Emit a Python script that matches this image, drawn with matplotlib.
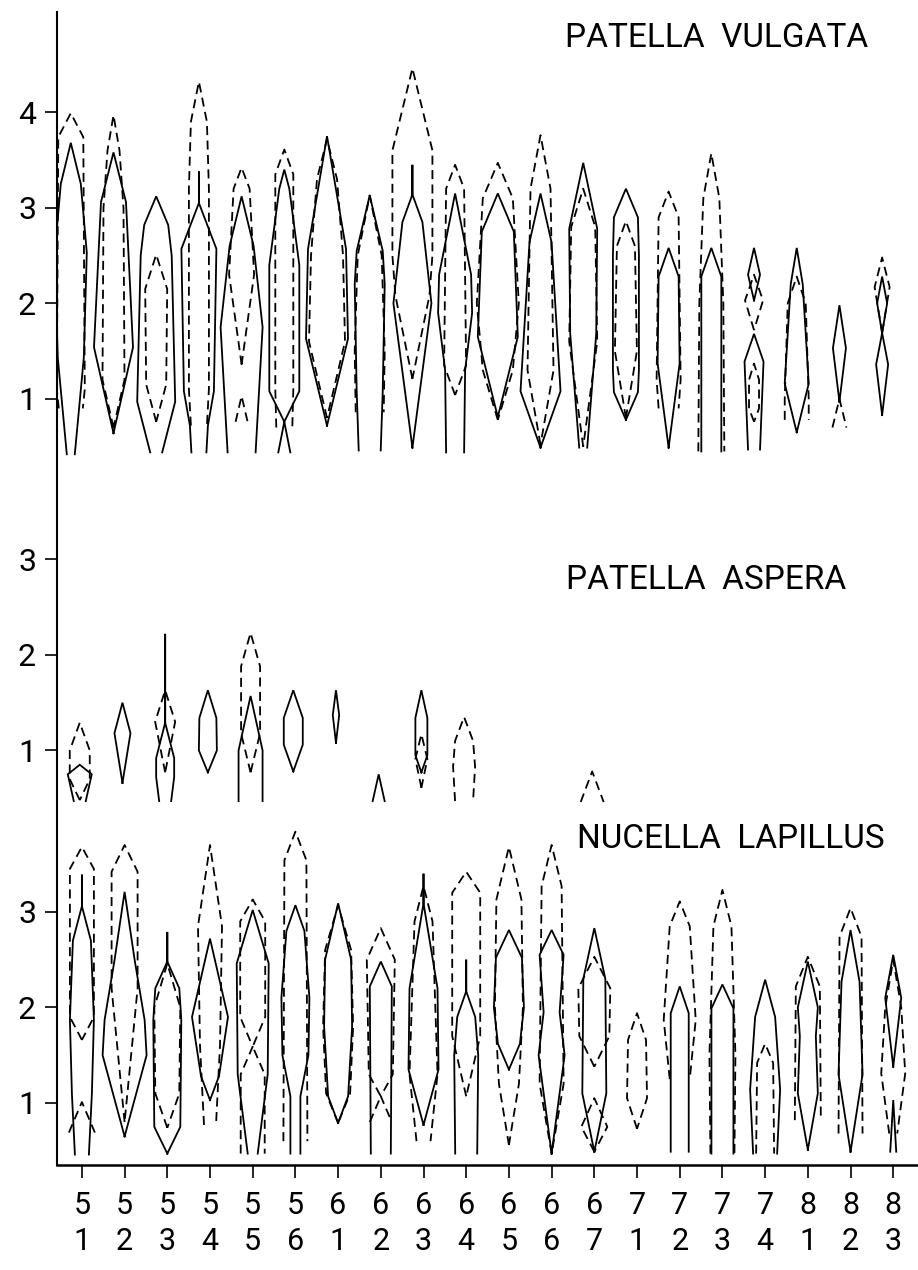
import matplotlib
matplotlib.use("Agg")
import matplotlib.pyplot as plt

plt.rcParams['font.family'] = ['Roboto', 'DejaVu Sans']

# station labels along the shore (tens digit over units digit)
stations = ['51', '52', '53', '54', '55', '56', '61', '62', '63', '64',
            '65', '66', '67', '71', '72', '73', '74', '81', '82', '83']

# kites: (station, [(level, half abundance), ...] from top to bottom)
vulgata_solid = [
    ('51', [(3.68, 0), (3.25, 10), (2.53, 16), (1.43, 13), (0.42, 4)]),
    ('52', [(3.58, 0), (3.06, 12.5), (1.54, 19.5), (0.64, 0)]),
    ('53', [(3.12, 0), (2.82, 12), (2.5, 15.5), (0.97, 19), (0.44, 6)]),
    ('54', [(3.38, 0), (3.05, 0), (2.57, 17.5), (1.08, 15), (0.72, 9), (0.44, 7.5)]),
    ('55', [(3.12, 0), (2.6, 12), (1.75, 21), (0.44, 14)]),
    ('56', [(3.40, 0), (3.2, 5), (2.4, 15), (1.08, 15), (0.76, 0), (0.44, 6)]),
    ('61', [(3.75, 0), (2.57, 19), (1.63, 21), (0.72, 0)]),
    ('62', [(3.13, 0), (2.55, 13), (2.2, 15), (1.07, 13), (0.46, 11)]),
    ('63', [(3.45, 0), (3.14, 0), (2.85, 10), (2.0, 19), (0.49, 0)]),
    ('64', [(3.15, 0), (2.3, 16), (1.9, 17), (1.3, 10), (0.44, 9)]),
    ('65', [(3.15, 0), (2.75, 16), (1.65, 20), (0.81, 0)]),
    ('66', [(3.15, 0), (2.64, 11), (1.08, 20), (0.49, 0)]),
    ('67', [(3.47, 0), (2.78, 14), (1.68, 13), (0.49, 4)]),
    ('71', [(3.2, 0), (2.9, 12), (2.5, 13), (1.3, 13), (1.07, 12), (0.78, 0)]),
    ('72', [(2.58, 0), (2.28, 10), (1.37, 11), (0.49, 0)]),
    ('73', [(2.58, 0), (2.28, 10), (0.45, 10)]),
    ('74', [(2.58, 0), (2.3, 6), (2.03, 0)]),
    ('74', [(1.68, 0), (1.39, 9.5), (0.47, 6)]),
    ('81', [(2.58, 0), (2.2, 6), (1.16, 12), (0.65, 0)]),
    ('82', [(1.98, 0), (1.53, 6.5), (0.97, 0)]),
    ('83', [(2.28, 0), (2.0, 5), (1.69, 0), (1.36, 6), (0.83, 0)]),
]
vulgata_dashed = [
    ('51', [(3.99, 0), (3.74, 12.5), (1.1, 14), (0.9, 12)]),
    ('52', [(3.97, 0), (3.6, 6), (3.0, 10), (1.2, 11), (0.7, 0)]),
    ('53', [(2.51, 0), (2.15, 11), (1.15, 10), (0.76, 0)]),
    ('54', [(4.32, 0), (3.9, 8), (3.2, 10), (1.1, 10), (0.72, 8)]),
    ('55', [(3.42, 0), (3.2, 8), (2.3, 12.5), (1.36, 0)]),
    ('55', [(1.03, 0), (0.76, 6)]),
    ('56', [(3.61, 0), (3.35, 9), (1.1, 9), (0.7, 8)]),
    ('61', [(3.72, 0), (3.3, 10), (2.5, 16), (1.6, 18), (0.8, 0)]),
    ('62', [(3.13, 0), (2.5, 12), (1.5, 15), (0.86, 14)]),
    ('63', [(4.46, 0), (3.6, 20), (2.5, 20), (2.08, 17), (1.21, 0)]),
    ('64', [(3.45, 0), (3.2, 9), (1.35, 11), (1.04, 0)]),
    ('65', [(3.47, 0), (3.1, 15), (2.0, 21), (1.3, 15), (0.78, 0)]),
    ('66', [(3.76, 0), (3.2, 10), (1.3, 13), (0.52, 0)]),
    ('67', [(3.2, 0), (2.8, 12), (1.6, 14), (0.5, 0)]),
    ('71', [(2.86, 0), (2.6, 9), (1.5, 11), (0.8, 0)]),
    ('72', [(3.17, 0), (2.9, 10), (1.2, 12), (0.9, 10)]),
    ('73', [(3.57, 0), (3.1, 8), (2.0, 12), (0.45, 13)]),
    ('74', [(2.3, 0), (2.03, 9), (1.72, 0)]),
    ('74', [(1.37, 0), (1.2, 5), (0.9, 5), (0.76, 0)]),
    ('81', [(2.28, 0), (2.0, 9), (1.0, 12), (0.78, 12)]),
    ('82', [(1.0, 0), (0.7, 7)]),
    ('83', [(2.48, 0), (2.17, 7.5), (1.69, 0)]),
]

aspera_solid = [
    ('51', [(0.85, 0), (0.75, 12), (0.47, 6)]),
    ('52', [(1.5, 0), (1.18, 8), (0.66, 0)]),
    ('53', [(2.22, 0), (1.29, 0), (0.92, 9), (0.72, 9), (0.47, 6)]),
    ('54', [(1.63, 0), (1.34, 8.5), (1.0, 9), (0.77, 0)]),
    ('55', [(1.57, 0), (1.0, 12), (0.47, 12)]),
    ('56', [(1.63, 0), (1.34, 9.5), (1.06, 9.5), (0.78, 0)]),
    ('61', [(1.63, 0), (1.37, 3.2), (1.08, 0)]),
    ('62', [(0.75, 0), (0.47, 6)]),
    ('63', [(1.63, 0), (1.34, 6), (0.95, 6), (0.77, 0)]),
]
aspera_dashed = [
    ('51', [(1.29, 0), (1.0, 10), (0.7, 10), (0.48, 0)]),
    ('53', [(1.63, 0), (1.3, 10), (0.77, 0)]),
    ('55', [(2.23, 0), (1.88, 9.5), (1.18, 9.5), (0.77, 0)]),
    ('63', [(1.17, 0), (0.91, 6), (0.61, 0)]),
    ('64', [(1.35, 0), (1.1, 9), (0.83, 11), (0.47, 9)]),
    ('67', [(0.78, 0), (0.46, 11.5)]),
]

lapillus_solid = [
    ('51', [(3.39, 0), (3.06, 0), (2.7, 9), (1.87, 12), (1.1, 10), (0.46, 7)]),
    ('52', [(3.21, 0), (2.5, 10), (1.87, 20), (1.5, 22), (0.65, 0)]),
    ('53', [(2.79, 0), (2.48, 0), (2.2, 12), (1.87, 14), (0.75, 13), (0.47, 0)]),
    ('54', [(2.72, 0), (1.9, 18), (1.28, 9), (1.03, 0)]),
    ('55', [(3.02, 0), (2.46, 16), (1.3, 15), (0.47, 5)]),
    ('56', [(3.07, 0), (2.8, 9), (2.1, 14), (1.5, 13), (1.07, 5), (0.47, 5)]),
    ('61', [(3.09, 0), (2.5, 13), (1.8, 14), (1.07, 10), (0.79, 0)]),
    ('62', [(2.48, 0), (2.22, 11), (0.47, 10)]),
    ('63', [(3.4, 0), (3.09, 0), (2.2, 14), (1.35, 15), (0.77, 0)]),
    ('64', [(2.5, 0), (2.17, 0), (1.9, 9), (1.5, 12), (0.47, 11)]),
    ('65', [(2.81, 0), (2.52, 13), (2.0, 15), (1.62, 11), (1.35, 0)]),
    ('66', [(2.81, 0), (2.55, 12), (1.95, 8), (1.5, 13), (0.47, 0)]),
    ('67', [(2.83, 0), (2.3, 11), (1.1, 12), (0.49, 0)]),
    ('72', [(2.22, 0), (1.94, 9), (0.49, 9)]),
    ('73', [(2.24, 0), (1.99, 11), (0.47, 11)]),
    ('74', [(2.29, 0), (1.9, 10), (1.14, 15), (0.47, 12)]),
    ('81', [(2.48, 0), (2.0, 10), (1.7, 8), (1.1, 10), (0.51, 0)]),
    ('82', [(2.81, 0), (2.27, 9), (1.3, 12), (0.49, 0)]),
    ('83', [(2.55, 0), (2.1, 8), (1.38, 0)]),
    ('83', [(1.03, 0), (0.49, 3)]),
]
lapillus_dashed = [
    ('51', [(3.68, 0), (3.45, 12), (1.9, 12), (1.66, 0)]),
    ('51', [(1.01, 0), (0.69, 13)]),
    ('52', [(3.7, 0), (3.42, 13), (2.2, 13), (0.8, 0)]),
    ('53', [(2.46, 0), (2.0, 13), (1.1, 12), (0.74, 0)]),
    ('54', [(3.7, 0), (2.85, 12), (1.6, 10), (0.77, 6)]),
    ('55', [(3.13, 0), (2.9, 12.5), (1.9, 12.5), (1.59, 0), (1.3, 12), (0.47, 12)]),
    ('56', [(3.84, 0), (3.54, 11), (0.6, 12)]),
    ('61', [(3.07, 0), (2.6, 13), (1.8, 15), (1.1, 12), (0.79, 0)]),
    ('62', [(2.83, 0), (2.5, 14), (1.3, 12), (1.07, 0), (0.8, 11)]),
    ('63', [(3.27, 0), (2.9, 9), (1.3, 14), (0.6, 7)]),
    ('64', [(3.42, 0), (3.2, 14), (1.7, 14), (1.07, 0)]),
    ('65', [(3.68, 0), (3.13, 12.5), (2.0, 14), (1.2, 10), (0.56, 0)]),
    ('66', [(3.7, 0), (3.27, 10), (1.2, 12), (0.47, 0)]),
    ('67', [(2.53, 0), (2.2, 16), (1.7, 15), (1.38, 0)]),
    ('67', [(1.05, 0), (0.75, 13), (0.49, 0)]),
    ('71', [(1.94, 0), (1.66, 9), (1.05, 10), (0.73, 0)]),
    ('72', [(3.11, 0), (2.85, 10), (1.87, 16), (1.25, 10)]),
    ('73', [(3.23, 0), (2.85, 9), (1.5, 13), (0.47, 12)]),
    ('74', [(1.62, 0), (1.42, 8), (0.47, 9)]),
    ('81', [(2.53, 0), (2.22, 12), (0.82, 13)]),
    ('82', [(3.04, 0), (2.74, 11), (0.68, 12)]),
    ('83', [(2.5, 0), (2.0, 8), (1.31, 12), (0.68, 4)]),
]

# panel layout: (name, solid, dashed, vertical offset, x shift, tick levels)
panels = [
    ('PATELLA  VULGATA', vulgata_solid, vulgata_dashed, 7.37, -0.26, [1, 2, 3, 4]),
    ('PATELLA  ASPERA', aspera_solid, aspera_dashed, 3.69, -0.05, [1, 2, 3]),
    ('NUCELLA  LAPILLUS', lapillus_solid, lapillus_dashed, 0.0, 0.0, [1, 2, 3]),
]
title_pos = [(0.615, 0.970), (0.617, 0.543), (0.629, 0.339)]

width_scale = 1 / 42.7   # abundance units -> station spacing
lw = 1.3


def draw_kite(ax, station, pts, offset, shift, **kw):
    xc = stations.index(station) + shift
    left = [(xc - w * width_scale, y + offset) for y, w in reversed(pts)]
    right = [(xc + w * width_scale, y + offset) for y, w in pts]
    xs, ys = zip(*(left + right))
    ax.plot(xs, ys, color='black', lw=lw, solid_joinstyle='miter', **kw)


fig = plt.figure(figsize=(9.18, 12.70), dpi=100)
ax = fig.add_axes([0.062, 0.0827, 0.938, 0.9079])

yticks, ylabels = [], []
for (name, solid, dashed, off, shift, levels), (tx, ty) in zip(panels, title_pos):
    for st, pts in solid:
        draw_kite(ax, st, pts, off, shift, linestyle='-')
    for st, pts in dashed:
        draw_kite(ax, st, pts, off, shift, linestyle=(0, (5, 3)))
    yticks += [lv + off for lv in levels]
    ylabels += [str(lv) for lv in levels]
    fig.text(tx, ty, name, fontsize=24, ha='left', va='center')

ax.set_xlim(-0.585, 19.58)
ax.set_ylim(0.351, 12.42)
ax.set_yticks(yticks)
ax.set_yticklabels(ylabels, fontsize=23)
ax.set_xticks(range(len(stations)))
ax.set_xticklabels([s[0] + '\n' + s[1] for s in stations], fontsize=22,
                   linespacing=1.28)
ax.tick_params(axis='y', direction='out', length=9, width=1.2, pad=6)
ax.tick_params(axis='x', direction='out', length=9, width=1.2, pad=10)
for side in ['top', 'right']:
    ax.spines[side].set_visible(False)
ax.spines['left'].set_linewidth(1.5)
ax.spines['bottom'].set_linewidth(1.8)

fig.savefig('out.png', dpi=100)
